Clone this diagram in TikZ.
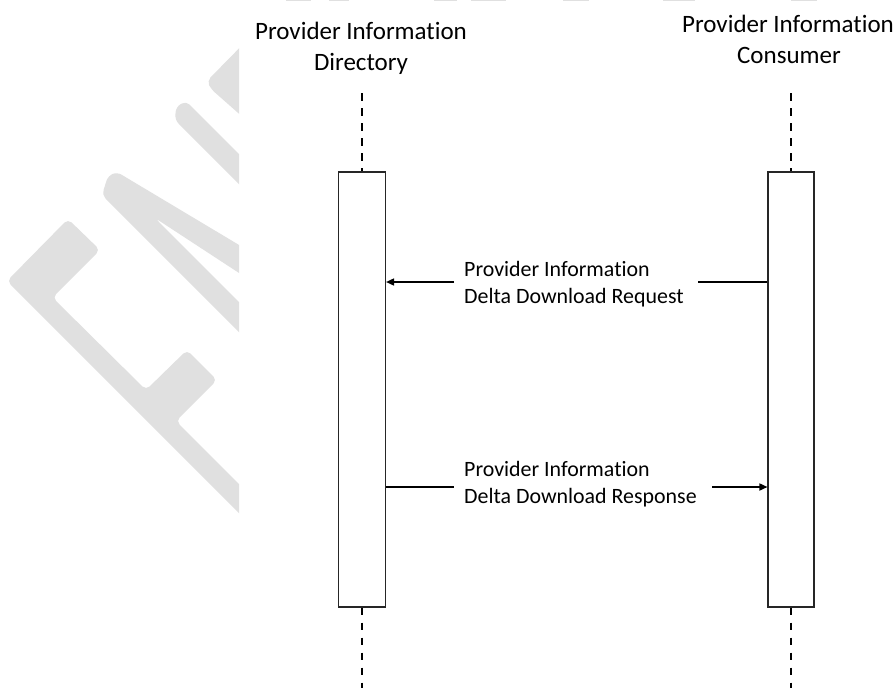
\documentclass[tikz,border=0pt]{standalone}
\usepackage{fontspec}
\setmainfont{Carlito}[Ligatures={NoCommon,NoRequired,NoContextual}]
\usetikzlibrary{arrows.meta}
\definecolor{wm}{RGB}{224,224,224}
\begin{document}
\begin{tikzpicture}[x=1pt,y=-1pt,
  actbox/.style={draw=black!85, line width=1.1pt, fill=white, minimum width=47pt, minimum height=435pt, inner sep=0pt},
  lifeline/.style={line width=1.8pt, dash pattern=on 7.5pt off 7.5pt},
  msg/.style={line width=1.6pt},
  msgarrow/.style={msg, -{Triangle[length=8pt,width=7pt]}},
  hdr/.style={font=\fontsize{25}{31}\selectfont, inner sep=0pt, anchor=base},
  lbl/.style={font=\fontsize{21.9}{27}\selectfont, inner sep=0pt, anchor=base west},
  wmark/.style={fill=wm, draw=none, rounded corners=5pt}]
\useasboundingbox (0,0) rectangle (896,691);
\fill[white] (0,0) rectangle (896,691);

% watermark (clipped)
\begin{scope}
  \clip (0,0) rectangle (239,691);
  \path[wmark] (262,536) -- (7,281) -- (68,219) -- (100,250) -- (52.5,297.5) -- (146,390) -- (187,350) -- (217,380) -- (176,421) -- (262,507) -- cycle;
  \path[wmark] (102,195) -- (108,176) -- (117,172) -- (262,258.7) -- (262,288) -- (155,218) -- (262,325) -- (262,355) -- cycle;
  \path[wmark] (175,120) -- (176,107) -- (186,101) -- (262,177) -- (262,207) -- cycle;
  \path[wmark] (262,25) -- (207,81) -- (211,89) -- (262,134) -- cycle;
\end{scope}
\foreach \a/\b in {286/311,329/349,434/457,471/506,563/589,663/695,791/817}
  \fill[wm] (\a,0) rectangle (\b,1.3);

% headers
\node[hdr] (lh1) at (361,39) {Provider Information};
\node[hdr] (lh2) at (361,70) {Directory};
\node[hdr] (rh1) at (788,32) {Provider Information};
\node[hdr] (rh2) at (789,63) {Consumer};

% lifelines and activation boxes
\node[actbox] (lbox) at (362,389.5) {};
\node[actbox, minimum width=46pt] (rbox) at (791,389.5) {};
\coordinate (ltop) at (362,93);
\coordinate (lbot) at (362,688);
\coordinate (rtop) at (791,93);
\coordinate (rbot) at (791,688);
\draw[lifeline] (ltop) -- (lbox.north);
\draw[lifeline] (lbox.south) -- (lbot);
\draw[lifeline] (rtop) -- (rbox.north);
\draw[lifeline] (rbox.south) -- (rbot);

% request
\coordinate (rq1) at (698,282);
\coordinate (rq2) at (454,282);
\draw[msg] (rbox.west |- rq1) -- (rq1);
\draw[msgarrow] (rq2) -- (lbox.east |- rq2);
\node[lbl] (rqa) at (464,276) {Provider Information};
\node[lbl] (rqb) at (464,303) {Delta Download Request};

% response
\coordinate (rs1) at (454,487);
\coordinate (rs2) at (712,487);
\draw[msg] (lbox.east |- rs1) -- (rs1);
\draw[msgarrow] (rs2) -- (rbox.west |- rs2);
\node[lbl] (rsa) at (464,476) {Provider Information};
\node[lbl] (rsb) at (464,503) {Delta Download Response};
\end{tikzpicture}
\end{document}
